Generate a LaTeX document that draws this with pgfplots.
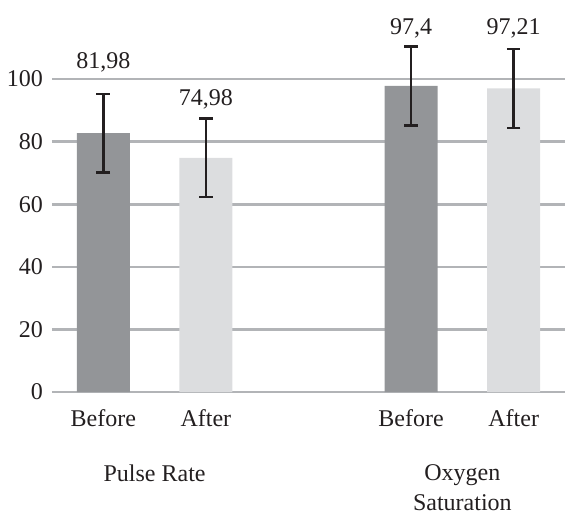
\documentclass[border=0pt]{standalone}
\usepackage{pgfplots}
\pgfplotsset{compat=1.18}
\usepackage{fontspec}
\setmainfont{Liberation Serif}
\definecolor{bardark}{HTML}{939598}
\definecolor{barlight}{HTML}{DCDDDF}
\definecolor{gridc}{HTML}{B2B4B7}
\definecolor{ink}{HTML}{231F20}
\begin{document}
\begin{tikzpicture}[font=\fontsize{12}{14.6}\selectfont]
\begin{axis}[
  scale only axis,
  width=256.5pt, height=156.5pt,
  xmin=-0.5, xmax=4.5,
  ymin=0, ymax=100,
  clip=false,
  axis line style={draw=none},
  ymajorgrids,
  grid style={color=gridc, line width=1.3pt},
  ytick={0,20,40,60,80,100},
  major tick length=0pt,
  xtick={0,1,3,4},
  xticklabels={Before,After,Before,After},
  extra x ticks={0.5,3.5},
  extra x tick labels={Pulse Rate,{Oxygen\\Saturation}},
  extra x tick style={grid=none, major tick length=0pt,
    tick label style={yshift=-27.5pt, align=center}},
  x tick label style={anchor=north, yshift=-5.5pt, text=ink},
  y tick label style={text=ink, xshift=-1pt},
  /pgf/number format/assume math mode=true,
  ybar, bar width=26.5pt,
  error bars/error bar style={line width=1.3pt, color=ink},
  error bars/error mark options={line width=1.3pt, color=ink, mark size=3.4pt, rotate=90},
]
\addplot[draw=none, fill=bardark, bar shift=0pt,
  error bars/.cd, y dir=both, y explicit]
  coordinates {(0,82.7) +- (0,12.5) (3,97.8) +- (0,12.6)};
\addplot[draw=none, fill=barlight, bar shift=0pt,
  error bars/.cd, y dir=both, y explicit]
  coordinates {(1,74.8) +- (0,12.5) (4,97.0) +- (0,12.6)};
\addplot[only marks, mark=none, bar shift=0pt,
  point meta=explicit symbolic,
  nodes near coords,
  nodes near coords style={anchor=base, text=ink, inner sep=0pt}]
  coordinates {(0,103.2) [81,98] (1,91.4) [74,98] (3,114.1) [97,4] (4,114.1) [97,21]};
\end{axis}
\pgfresetboundingbox
\path (-26pt,-61pt) rectangle (256.5pt,196pt);
\end{tikzpicture}
\end{document}
